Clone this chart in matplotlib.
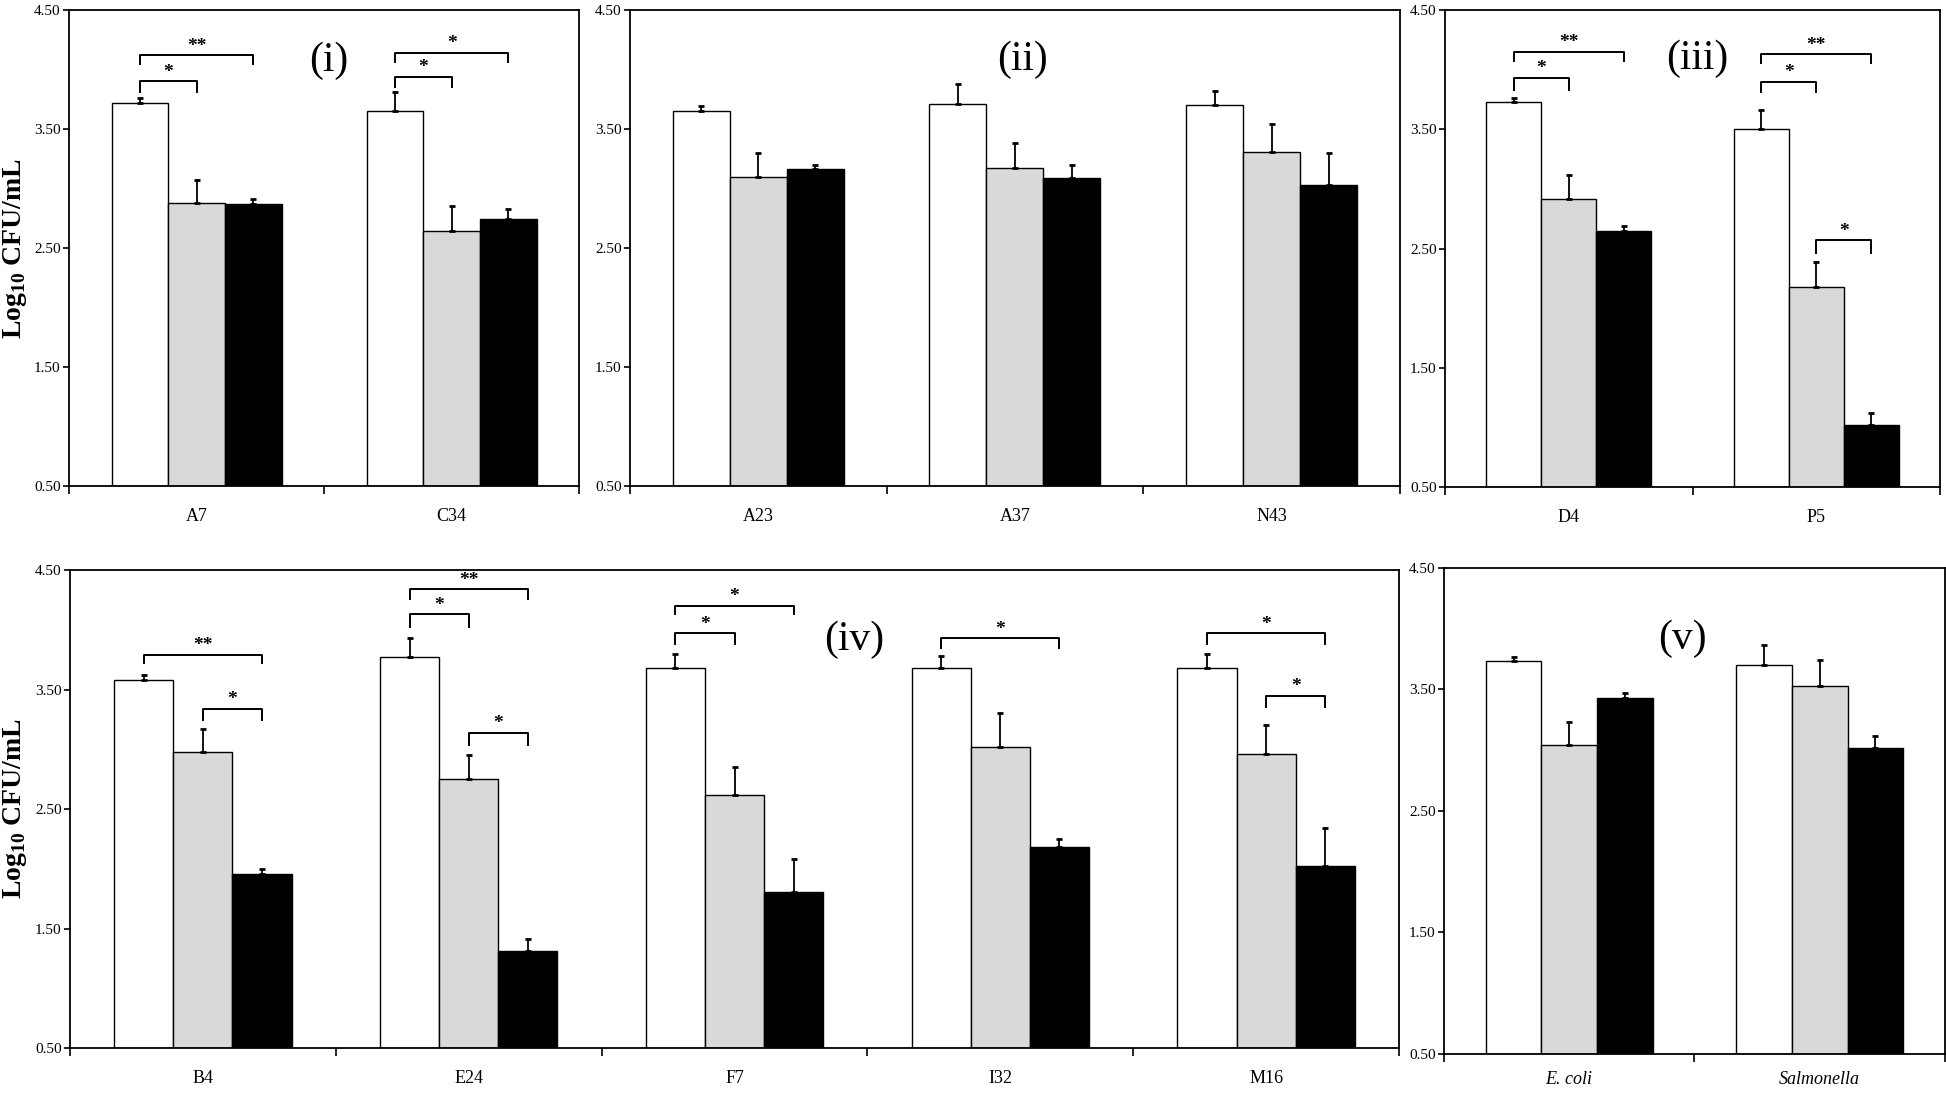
import matplotlib.pyplot as plt
import numpy as np

plt.rcParams['font.family'] = ['Liberation Serif', 'DejaVu Serif']
plt.rcParams['mathtext.fontset'] = 'custom'
plt.rcParams['mathtext.rm'] = 'Liberation Serif'
plt.rcParams['mathtext.bf'] = 'Liberation Serif:bold'

# panel (i)
cats_1 = ['A7', 'C34']
white_1 = [3.72, 3.65]
white_err_1 = [0.04, 0.16]
gray_1 = [2.88, 2.645]
gray_err_1 = [0.19, 0.21]
black_1 = [2.87, 2.74]
black_err_1 = [0.04, 0.09]
# (group, bar from, bar to, line y, end y, label)
sig_1 = [(0, 0, 1, 3.90, 3.81, '*'), (0, 0, 2, 4.12, 4.05, '**'),
         (1, 0, 1, 3.94, 3.85, '*'), (1, 0, 2, 4.14, 4.06, '*')]

# panel (ii)
cats_2 = ['A23', 'A37', 'N43']
white_2 = [3.655, 3.71, 3.70]
white_err_2 = [0.035, 0.17, 0.12]
gray_2 = [3.10, 3.17, 3.31]
gray_err_2 = [0.20, 0.21, 0.23]
black_2 = [3.16, 3.09, 3.03]
black_err_2 = [0.04, 0.11, 0.27]
sig_2 = []

# panel (iii)
cats_3 = ['D4', 'P5']
white_3 = [3.725, 3.50]
white_err_3 = [0.035, 0.16]
gray_3 = [2.915, 2.18]
gray_err_3 = [0.20, 0.21]
black_3 = [2.65, 1.02]
black_err_3 = [0.04, 0.10]
sig_3 = [(0, 0, 1, 3.93, 3.83, '*'), (0, 0, 2, 4.15, 4.07, '**'),
         (1, 0, 1, 3.90, 3.81, '*'), (1, 0, 2, 4.13, 4.06, '**'),
         (1, 1, 2, 2.57, 2.46, '*')]

# panel (iv)
cats_4 = ['B4', 'E24', 'F7', 'I32', 'M16']
white_4 = [3.58, 3.77, 3.68, 3.68, 3.68]
white_err_4 = [0.04, 0.16, 0.12, 0.10, 0.12]
gray_4 = [2.98, 2.75, 2.62, 3.02, 2.96]
gray_err_4 = [0.19, 0.20, 0.23, 0.28, 0.24]
black_4 = [1.96, 1.315, 1.81, 2.18, 2.02]
black_err_4 = [0.04, 0.10, 0.27, 0.07, 0.32]
sig_4 = [(0, 0, 2, 3.79, 3.72, '**'), (0, 1, 2, 3.34, 3.245, '*'),
         (1, 0, 2, 4.34, 4.26, '**'), (1, 0, 1, 4.13, 4.02, '*'),
         (1, 1, 2, 3.14, 3.04, '*'),
         (2, 0, 1, 3.97, 3.88, '*'), (2, 0, 2, 4.20, 4.13, '*'),
         (3, 0, 2, 3.93, 3.85, '*'),
         (4, 0, 2, 3.97, 3.88, '*'), (4, 1, 2, 3.45, 3.35, '*')]

# panel (v)
cats_5 = ['E. coli', 'Salmonella']
white_5 = [3.735, 3.70]
white_err_5 = [0.035, 0.17]
gray_5 = [3.04, 3.53]
gray_err_5 = [0.19, 0.21]
black_5 = [3.43, 3.015]
black_err_5 = [0.04, 0.10]
sig_5 = []

yticks = [0.5, 1.5, 2.5, 3.5, 4.5]

fig = plt.figure(figsize=(19.46, 10.94), dpi=100)

panels = [
    ([0.0355, 0.5558, 0.2621, 0.4351], cats_1, white_1, white_err_1, gray_1, gray_err_1, black_1, black_err_1, sig_1, '(i)', (0.52, 4.07), False, 16),
    ([0.3237, 0.5558, 0.3957, 0.4351], cats_2, white_2, white_err_2, gray_2, gray_err_2, black_2, black_err_2, sig_2, '(ii)', (1.03, 4.08), False, 16),
    ([0.7426, 0.5548, 0.2544, 0.4360], cats_3, white_3, white_err_3, gray_3, gray_err_3, black_3, black_err_3, sig_3, '(iii)', (0.52, 4.09), False, 16),
    ([0.0360, 0.0420, 0.6829, 0.4369], cats_4, white_4, white_err_4, gray_4, gray_err_4, black_4, black_err_4, sig_4, '(iv)', (2.45, 3.92), False, 16),
    ([0.7420, 0.0366, 0.2575, 0.4442], cats_5, white_5, white_err_5, gray_5, gray_err_5, black_5, black_err_5, sig_5, '(v)', (0.45, 3.92), True, 12),
]

w = 1 / 4.5
for rect, cats, wh, whe, gr, gre, bl, ble, sig, lab, labxy, italic, lpad in panels:
    ax = fig.add_axes(rect)
    x = np.arange(len(cats))
    series = [(wh, whe, 'white'), (gr, gre, '#d9d9d9'), (bl, ble, 'black')]
    for k, (vals, errs, col) in enumerate(series):
        xs = x + (k - 1) * w
        ax.bar(xs, np.array(vals) - 0.5, bottom=0.5, width=w, color=col,
               edgecolor='black', linewidth=1.0, zorder=2)
        ax.errorbar(xs, vals, yerr=[np.zeros(len(vals)), errs], fmt='none',
                    ecolor='black', elinewidth=1.3, capsize=2, capthick=2, zorder=3)
    for g, b1, b2, yl, ye, s in sig:
        x1 = g + (b1 - 1) * w
        x2 = g + (b2 - 1) * w
        ax.plot([x1, x1, x2, x2], [ye, yl, yl, ye], color='black', lw=1.4, zorder=4)
        ax.text((x1 + x2) / 2, yl + 0.005, s, ha='center', va='bottom',
                fontsize=14, fontweight='bold')
    ax.text(labxy[0], labxy[1], lab, ha='center', va='center', fontsize=30)

    ax.set_xlim(-0.5, len(cats) - 0.5)
    ax.set_ylim(0.5, 4.5)
    ax.set_yticks(yticks)
    ax.set_yticklabels(['%.2f' % t for t in yticks], fontsize=11)
    ax.set_xticks(np.arange(len(cats) + 1) - 0.5)
    ax.set_xticklabels([])
    ax.set_xticks(x, minor=True)
    ax.set_xticklabels(cats, minor=True, fontsize=13,
                       style='italic' if italic else 'normal')
    ax.tick_params(axis='x', which='major', direction='out', length=6, width=1.2)
    ax.tick_params(axis='x', which='minor', length=0, pad=lpad)
    ax.tick_params(axis='y', direction='out', length=4, width=1.2, pad=2)
    for sp in ax.spines.values():
        sp.set_linewidth(1.3)

ylab = r'Log$_{\mathbf{10}}$ CFU/mL'
fig.text(0.0075, 0.773, ylab, rotation=90, ha='center', va='center',
         fontsize=20, fontweight='bold')
fig.text(0.0075, 0.2605, ylab, rotation=90, ha='center', va='center',
         fontsize=20, fontweight='bold')

fig.savefig('out.png', dpi=100)
